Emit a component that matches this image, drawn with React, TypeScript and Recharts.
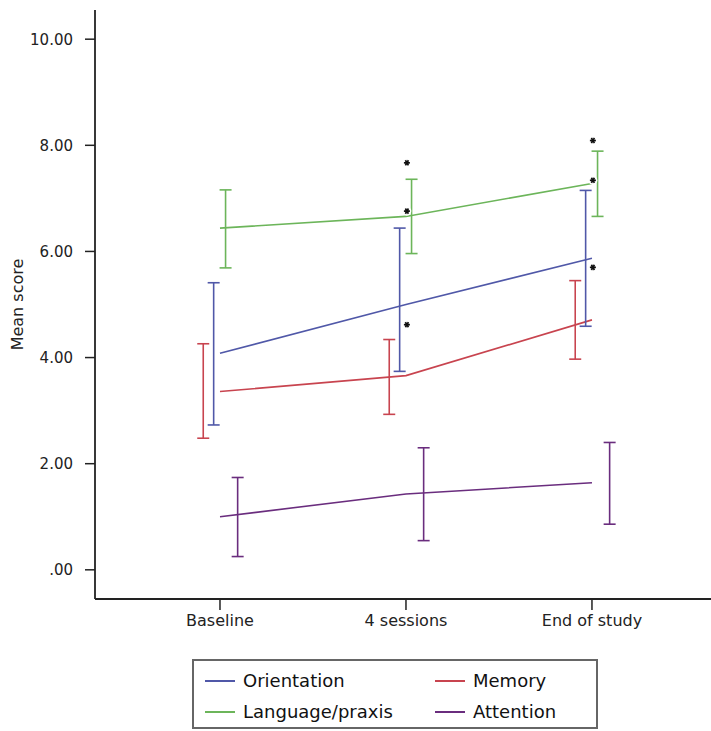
import { ComposedChart, ErrorBar, Label, Line, Scatter, XAxis, YAxis } from "recharts";

const timepoints = ["Baseline", "4 sessions", "End of study"];

const orientationMean = [4.08, 5.0, 5.87];
const orientationLow = [2.73, 3.74, 4.59];
const orientationHigh = [5.41, 6.44, 7.15];

const memoryMean = [3.36, 3.66, 4.71];
const memoryLow = [2.48, 2.93, 3.97];
const memoryHigh = [4.26, 4.34, 5.45];

const languageMean = [6.44, 6.66, 7.28];
const languageLow = [5.69, 5.96, 6.66];
const languageHigh = [7.16, 7.36, 7.89];

const attentionMean = [1.0, 1.43, 1.64];
const attentionLow = [0.25, 0.55, 0.86];
const attentionHigh = [1.74, 2.3, 2.4];

// significance markers (*), time index and score
const starTime = [1, 1, 1, 2, 2, 2];
const starScore = [7.67, 6.76, 4.62, 8.09, 7.34, 5.7];

const yTicks = [0, 2, 4, 6, 8, 10];

const series = [
  { name: "Orientation", color: "#5058a8", mean: orientationMean, low: orientationLow, high: orientationHigh, offset: -0.034 },
  { name: "Memory", color: "#c8444f", mean: memoryMean, low: memoryLow, high: memoryHigh, offset: -0.09 },
  { name: "Language/praxis", color: "#6cb55a", mean: languageMean, low: languageLow, high: languageHigh, offset: 0.03 },
  { name: "Attention", color: "#6a2d7e", mean: attentionMean, low: attentionLow, high: attentionHigh, offset: 0.095 },
];

const FONT = "'DejaVu Sans', sans-serif";
const INK = "#222";

function Asterisk(props: { cx?: number; cy?: number }) {
  const { cx = 0, cy = 0 } = props;
  const r = 3;
  return (
    <g>
      <circle cx={cx} cy={cy} r={4.5} fill="#fff" />
      <circle cx={cx} cy={cy} r={1.6} fill="#111" />
      <line x1={cx - r} y1={cy} x2={cx + r} y2={cy} stroke="#111" strokeWidth={1.7} />
      <line x1={cx - r * 0.5} y1={cy - r * 0.87} x2={cx + r * 0.5} y2={cy + r * 0.87} stroke="#111" strokeWidth={1.7} />
      <line x1={cx + r * 0.5} y1={cy - r * 0.87} x2={cx - r * 0.5} y2={cy + r * 0.87} stroke="#111" strokeWidth={1.7} />
    </g>
  );
}

function LegendItem({ color, label, x, y }: { color: string; label: string; x: number; y: number }) {
  return (
    <div style={{ position: "absolute", left: x, top: y, display: "flex", alignItems: "center" }}>
      <span style={{ display: "inline-block", width: 30, height: 2, background: color, marginRight: 8 }} />
      <span style={{ fontSize: 18, color: "#111", lineHeight: "20px", whiteSpace: "nowrap" }}>{label}</span>
    </div>
  );
}

export default function App() {
  const stars = starTime.map((t, i) => ({ x: t + 0.005, y: starScore[i] }));

  return (
    <div style={{ position: "absolute", left: 0, top: 0, width: 711, height: 731, background: "#fff", fontFamily: FONT }}>
      <ComposedChart width={711} height={731} margin={{ top: 10, right: 0, bottom: 92, left: 0 }}>
        <XAxis
          type="number"
          dataKey="x"
          domain={[-0.672, 2.64]}
          allowDataOverflow
          ticks={[0, 1, 2]}
          tickFormatter={(v: number) => timepoints[v] ?? ""}
          height={40}
          tickSize={11}
          tickMargin={5}
          axisLine={{ stroke: INK, strokeWidth: 1.8 }}
          tickLine={{ stroke: INK, strokeWidth: 1.5 }}
          tick={{ fill: INK, fontSize: 16, fontFamily: FONT }}
        />
        <YAxis
          type="number"
          dataKey="y"
          domain={[-0.55, 10.55]}
          allowDataOverflow
          ticks={yTicks}
          tickFormatter={(v: number) => (v === 0 ? ".00" : v.toFixed(2))}
          width={95}
          tickSize={10}
          tickMargin={12}
          axisLine={{ stroke: INK, strokeWidth: 1.8 }}
          tickLine={{ stroke: INK, strokeWidth: 1.5 }}
          tick={{ fill: INK, fontSize: 15, fontFamily: FONT }}
        >
          <Label
            content={(props: any) => {
              const vb = props.viewBox || { x: 0, y: 0, width: 0, height: 0 };
              const cx = vb.x + 17;
              const cy = vb.y + vb.height / 2;
              return (
                <text
                  x={cx}
                  y={cy}
                  transform={`rotate(-90 ${cx} ${cy})`}
                  textAnchor="middle"
                  dominantBaseline="central"
                  fontSize={16}
                  fontFamily={FONT}
                  fill={INK}
                >
                  Mean score
                </text>
              );
            }}
          />
        </YAxis>

        {series.map((s) => (
          <Line
            key={`line-${s.name}`}
            data={s.mean.map((m, i) => ({ x: i, y: m }))}
            dataKey="y"
            type="linear"
            stroke={s.color}
            strokeWidth={1.6}
            dot={false}
            activeDot={false}
            isAnimationActive={false}
          />
        ))}

        {series.map((s) => (
          <Scatter
            key={`err-${s.name}`}
            data={s.mean.map((m, i) => ({ x: i + s.offset, y: m, err: [m - s.low[i], s.high[i] - m] }))}
            dataKey="y"
            shape={() => <g />}
            isAnimationActive={false}
          >
            <ErrorBar dataKey="err" direction="y" width={6} stroke={s.color} strokeWidth={1.6} isAnimationActive={false} />
          </Scatter>
        ))}

        <Scatter data={stars} dataKey="y" shape={(p: any) => <Asterisk cx={p.cx} cy={p.cy} />} isAnimationActive={false} />
      </ComposedChart>

      <div
        style={{
          position: "absolute",
          left: 192,
          top: 659,
          width: 406,
          height: 70,
          border: "2px solid #666",
          boxSizing: "border-box",
        }}
      >
        <LegendItem color={series[0].color} label={series[0].name} x={11} y={10} />
        <LegendItem color={series[1].color} label={series[1].name} x={241} y={10} />
        <LegendItem color={series[2].color} label={series[2].name} x={11} y={41} />
        <LegendItem color={series[3].color} label={series[3].name} x={241} y={41} />
      </div>
    </div>
  );
}
